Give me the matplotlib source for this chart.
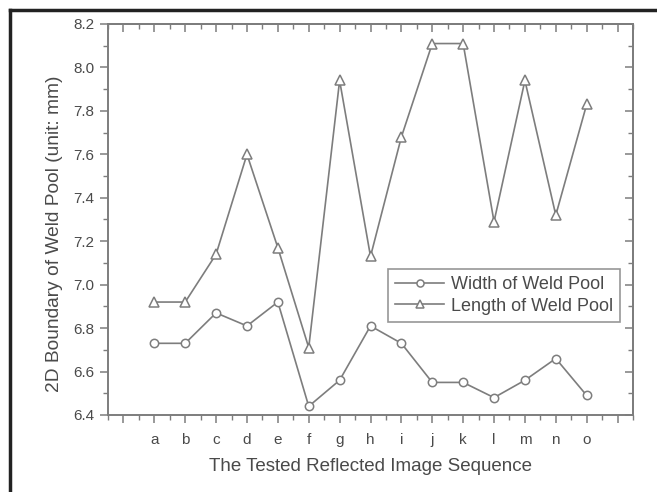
import numpy as np
import matplotlib.pyplot as plt
from matplotlib.lines import Line2D
from matplotlib.ticker import MultipleLocator, FixedLocator

plt.rcParams['font.family'] = ['Liberation Sans', 'DejaVu Sans']

labels = ['a', 'b', 'c', 'd', 'e', 'f', 'g', 'h', 'i', 'j', 'k', 'l', 'm', 'n', 'o']
width = [6.73, 6.73, 6.87, 6.81, 6.92, 6.44, 6.56, 6.81, 6.73, 6.55, 6.55, 6.48, 6.56, 6.66, 6.49]
length = [6.92, 6.92, 7.14, 7.60, 7.17, 6.71, 7.94, 7.13, 7.68, 8.11, 8.11, 7.29, 7.94, 7.32, 7.83]

x = np.arange(1, len(labels) + 1)
gray = '#7d7d7d'
txt = '#4a4a4a'

fig = plt.figure(figsize=(6.57, 4.92), dpi=100)
ax = fig.add_axes([108 / 657, 1 - 415 / 492, 525 / 657, 391 / 492])

ax.plot(x, width, color=gray, lw=1.2, marker='o', ms=6, mfc='white', mec=gray, mew=1.1,
        label='Width of Weld Pool')
ax.plot(x, length, color=gray, lw=1.2, marker='^', ms=6.5, mfc='white', mec=gray, mew=1.1,
        label='Length of Weld Pool')

ax.set_xlim(-0.5, 16.5)
ax.set_ylim(6.4, 8.2)
ax.xaxis.set_major_locator(FixedLocator(np.arange(0, 17)))
ax.xaxis.set_minor_locator(MultipleLocator(0.5))
ax.set_xticklabels([''] + labels + [''])
ax.yaxis.set_major_locator(MultipleLocator(0.2))
ax.yaxis.set_minor_locator(MultipleLocator(0.1))
ax.yaxis.set_major_formatter(plt.FormatStrFormatter('%.1f'))

ax.tick_params(axis='both', which='both', colors=gray, labelcolor=txt, labelsize=11)
ax.tick_params(which='major', length=6, width=1.1)
ax.tick_params(which='minor', length=3.5, width=1)
ax.tick_params(axis='x', which='both', direction='out', top=False)
ax.tick_params(axis='x', which='major', pad=7)
ax.tick_params(axis='y', which='both', direction='out', right=False)
ax.tick_params(axis='y', which='major', pad=4)

# inward ticks on top and right
ax2 = ax.secondary_xaxis('top')
ax2.xaxis.set_major_locator(FixedLocator(np.arange(0, 17)))
ax2.xaxis.set_minor_locator(MultipleLocator(0.5))
ax2.tick_params(which='both', direction='in', colors=gray, labeltop=False)
ax2.tick_params(which='major', length=6, width=1.1)
ax2.tick_params(which='minor', length=3.5, width=1)
ax3 = ax.secondary_yaxis('right')
ax3.yaxis.set_major_locator(MultipleLocator(0.2))
ax3.yaxis.set_minor_locator(MultipleLocator(0.1))
ax3.tick_params(which='both', direction='in', colors=gray, labelright=False)
ax3.tick_params(which='major', length=6, width=1.1)
ax3.tick_params(which='minor', length=3.5, width=1)
for s in list(ax.spines.values()) + [ax2.spines['top'], ax3.spines['right']]:
    s.set_color(gray)
    s.set_linewidth(1.4)

ax.set_xlabel('The Tested Reflected Image Sequence', fontsize=13.5, color=txt, labelpad=8)
ax.set_ylabel('2D Boundary of Weld Pool (unit: mm)', fontsize=13.8, color=txt)
ax.yaxis.set_label_coords(-0.086, 0.463)

leg = ax.legend(loc='lower right', bbox_to_anchor=(0.975, 0.238), fontsize=13, frameon=True,
                fancybox=False, edgecolor=gray, handlelength=2.7, borderpad=0.4,
                labelspacing=0.25, handletextpad=0.35, borderaxespad=0, markerscale=0.85)
for t in leg.get_texts():
    t.set_color(txt)
leg.get_frame().set_linewidth(1.2)

# outer frame (top and left edges)
fig.add_artist(Line2D([10 / 657, 10 / 657], [0, 1 - 10 / 492], color='#222222', lw=2.5))
fig.add_artist(Line2D([10 / 657, 1], [1 - 10 / 492, 1 - 10 / 492], color='#222222', lw=2.5))

fig.savefig('out.png', dpi=100)
